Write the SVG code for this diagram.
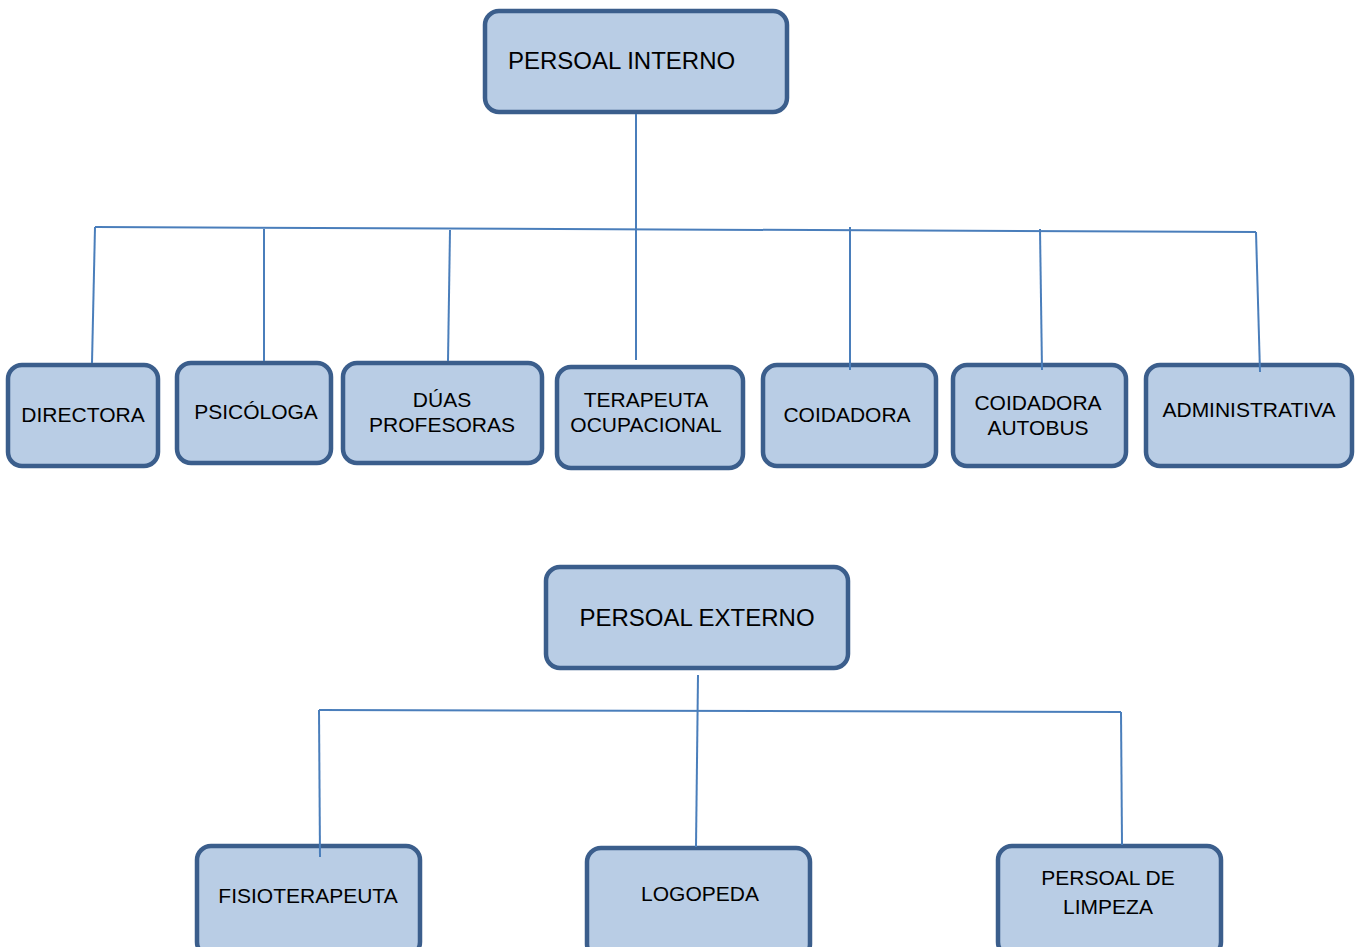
<svg xmlns="http://www.w3.org/2000/svg" width="1356" height="947" viewBox="0 0 1356 947">
<style>
.box{fill:#b9cde5;stroke:#3b5e8c;stroke-width:4.5}
.t{font-family:"Liberation Sans",Arial,sans-serif;font-size:21px;fill:#000;text-anchor:middle}
.h{font-size:24px}
.c{stroke:#4a7ebb;stroke-width:2;fill:none}
</style>
<rect width="1356" height="947" fill="#fff"/>
<g id="persoal-interno"><rect class="box" x="485" y="11" width="302" height="101" rx="14"/><text class="t h" x="508" y="69" style="text-anchor:start">PERSOAL INTERNO</text></g>
<g id="directora"><rect class="box" x="8" y="365" width="150" height="101" rx="14"/><text class="t" x="83" y="422">DIRECTORA</text></g>
<g id="psicologa"><rect class="box" x="177" y="363" width="154" height="100" rx="14"/><text class="t" x="256" y="419">PSICÓLOGA</text></g>
<g id="duas-profesoras"><rect class="box" x="343" y="363" width="199" height="100" rx="14"/><text class="t" x="442" y="407">DÚAS</text><text class="t" x="442" y="432">PROFESORAS</text></g>
<g id="terapeuta-ocupacional"><rect class="box" x="557" y="367" width="186" height="101" rx="14"/><text class="t" x="646" y="407">TERAPEUTA</text><text class="t" x="646" y="432">OCUPACIONAL</text></g>
<g id="coidadora"><rect class="box" x="763" y="365" width="173" height="101" rx="14"/><text class="t" x="847" y="422">COIDADORA</text></g>
<g id="coidadora-autobus"><rect class="box" x="953" y="365" width="173" height="101" rx="14"/><text class="t" x="1038" y="410">COIDADORA</text><text class="t" x="1038" y="435">AUTOBUS</text></g>
<g id="administrativa"><rect class="box" x="1146" y="365" width="206" height="101" rx="14"/><text class="t" x="1249" y="417">ADMINISTRATIVA</text></g>
<g id="persoal-externo"><rect class="box" x="546" y="567" width="302" height="101" rx="14"/><text class="t h" x="697" y="626">PERSOAL EXTERNO</text></g>
<g id="fisioterapeuta"><rect class="box" x="197" y="846" width="223" height="110" rx="14"/><text class="t" x="308" y="903">FISIOTERAPEUTA</text></g>
<g id="logopeda"><rect class="box" x="587" y="848" width="223" height="110" rx="14"/><text class="t" x="700" y="901">LOGOPEDA</text></g>
<g id="persoal-de-limpeza"><rect class="box" x="998" y="846" width="223" height="110" rx="14"/><text class="t" x="1108" y="885">PERSOAL DE</text><text class="t" x="1108" y="914">LIMPEZA</text></g>
<g id="connectors">
<path class="c" d="M636 114 V360"/>
<path class="c" d="M95 227 L1256 232"/>
<path class="c" d="M95 227 L92 363"/>
<path class="c" d="M264 229 V361"/>
<path class="c" d="M450 230 L448 361"/>
<path class="c" d="M850 227 V370"/>
<path class="c" d="M1040 229 L1042 370"/>
<path class="c" d="M1256 232 L1260 372"/>
<path class="c" d="M698 675 L696 847"/>
<path class="c" d="M319 710 L1121 712"/>
<path class="c" d="M319 710 L320 857"/>
<path class="c" d="M1121 712 L1122 845"/>
</g>
</svg>
